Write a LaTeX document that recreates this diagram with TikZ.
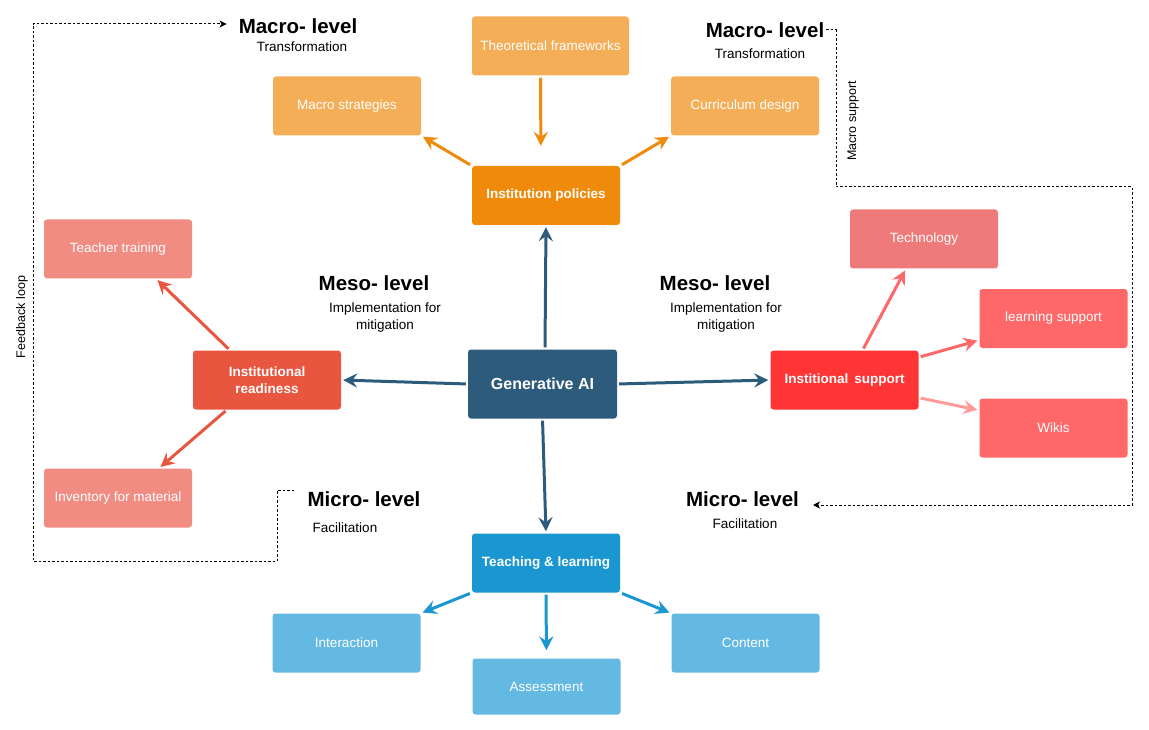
\documentclass[tikz,border=0pt]{standalone}
\usepackage{fontspec}
\setmainfont{Liberation Sans}
\usetikzlibrary{arrows.meta,calc}
\definecolor{orL}{HTML}{F5AE58}
\definecolor{orD}{HTML}{F08A0B}
\definecolor{navy}{HTML}{2D5B7C}
\definecolor{salm}{HTML}{F08C82}
\definecolor{redD}{HTML}{E8563F}
\definecolor{techc}{HTML}{EF7A7A}
\definecolor{pinkc}{HTML}{FF6868}
\definecolor{redS}{HTML}{FF3535}
\definecolor{blueD}{HTML}{1A96D0}
\definecolor{blueL}{HTML}{63B9E1}
\definecolor{pinkL}{HTML}{FF9A9A}
\tikzset{
  box/.style={rounded corners=3pt, minimum width=148pt, minimum height=59pt, inner sep=0pt,
    text=white, align=center, font=\fontsize{13.5}{16}\selectfont},
  boldbox/.style={box, font=\fontsize{13.5}{17}\selectfont\bfseries},
  lvl/.style={font=\fontsize{20.5}{24}\selectfont\bfseries, inner sep=0pt},
  sub/.style={font=\fontsize{13.5}{17}\selectfont, inner sep=0pt, align=center},
  arr/.style={line width=3pt, -{Stealth[length=14pt,width=14pt,inset=5pt]}, shorten <=2pt, shorten >=2pt},
  dotarr/.style={line width=1pt, dash pattern=on 2.5pt off 2pt, -{Stealth[length=7pt,width=7pt,inset=2pt]}},
  rot/.style={rotate=90, font=\fontsize{12.5}{15}\selectfont, inner sep=0pt}
}
\begin{document}
\begin{tikzpicture}[x=1pt,y=-1pt]
\useasboundingbox (0,0) rectangle (1149,730);
% macro
\node[box, fill=orL] (macrostr) at (347,106) {Macro strategies};
\node[box, fill=orL, minimum width=157pt] (theory) at (550.5,46) {Theoretical frameworks};
\node[box, fill=orL] (curric) at (745,106) {Curriculum design};
\node[boldbox, fill=orD] (policies) at (546,195.5) {Institution policies};
% meso left
\node[box, fill=salm] (teacher) at (118,249) {Teacher training};
\node[boldbox, fill=redD] (readiness) at (267,380) {Institutional\\readiness};
\node[box, fill=salm] (inventory) at (118,498) {Inventory for material};
% center
\node[box, fill=navy, minimum width=149pt, minimum height=69pt, font=\fontsize{16}{19}\selectfont\bfseries] (genai) at (542.5,384) {Generative AI};
% meso right
\node[box, fill=techc] (tech) at (924,239) {Technology};
\node[box, fill=pinkc] (learn) at (1053.5,318.5) {learning support};
\node[boldbox, fill=redS] (support) at (844.5,380) {Institional\, support};
\node[box, fill=pinkc] (wikis) at (1053.5,428) {Wikis};
% micro
\node[boldbox, fill=blueD] (teaching) at (546,563) {Teaching \& learning};
\node[box, fill=blueL] (interact) at (346.5,643) {Interaction};
\node[box, fill=blueL, minimum height=56pt] (assess) at (546.5,686.5) {Assessment};
\node[box, fill=blueL] (content) at (745.5,643) {Content};
% labels
\node[lvl] (macroL) at (298,26) {Macro- level};
\node[sub] (transL) at (302,47) {Transformation};
\node[lvl] (macroR) at (765,30) {Macro- level};
\node[sub] (transR) at (760,54) {Transformation};
\node[lvl] (mesoL) at (374,283) {Meso- level};
\node[sub] (implL) at (385,317.5) {Implementation for\\mitigation};
\node[lvl] (mesoR) at (715,283) {Meso- level};
\node[sub] (implR) at (726,317.5) {Implementation for\\mitigation};
\node[lvl] (microL) at (364,499) {Micro- level};
\node[sub] (facL) at (345,528) {Facilitation};
\node[lvl] (microR) at (742.5,499) {Micro- level};
\node[sub] (facR) at (745,524) {Facilitation};
\node[rot] (fbtext) at (22,317) {Feedback loop};
\node[rot] (mstext) at (853,121) {Macro support};
% arrows macro
\draw[arr, orD] ([xshift=-10pt]theory.south) -- ([xshift=-5pt]policies.north) [shorten >=20pt];
\draw[arr, orD] (policies.north west) -- (macrostr.south east);
\draw[arr, orD] (policies.north east) -- (curric.south west);
% arrows from gen ai
\draw[arr, navy] ([xshift=2.5pt]genai.north) -- (policies.south);
\draw[arr, navy] (genai.west) -- (readiness.east);
\draw[arr, navy] (genai.east) -- (support.west);
\draw[arr, navy] (genai.south) -- (teaching.north);
% meso left
\draw[arr, redD] ([xshift=-37pt]readiness.north) -- ([xshift=38pt]teacher.south);
\draw[arr, redD] ([xshift=-40pt]readiness.south) -- ([xshift=41pt]inventory.north);
% meso right
\draw[arr, pinkc] ([xshift=18pt]support.north) -- ([xshift=-18pt]tech.south);
\draw[arr, pinkc] ([yshift=-7pt]support.north east) -- ([yshift=8pt]learn.south west);
\draw[arr, pinkL] ([yshift=12pt]support.south east) -- ([yshift=-12pt]wikis.north west);
% micro
\draw[arr, blueD] (teaching.south west) -- (interact.north east);
\draw[arr, blueD] (teaching.south) -- (assess.north) [shorten >=8pt];
\draw[arr, blueD] (teaching.south east) -- (content.north west);
% dashed loops
\coordinate (fbs) at (294,490);
\coordinate (fbA) at (277,561);
\coordinate (fbB) at (33,24);
\draw[dotarr] (fbs) -| (fbA) -| (fbB) -- ([xshift=-12pt]fbB -| macroL.west);
\coordinate (ms1) at (836,187);
\coordinate (ms2) at (1132,505);
\coordinate (msEnd) at (813,505);
\draw[dotarr] ([xshift=2pt]macroR.east) -| (ms1) -| (ms2) -- (msEnd);
\end{tikzpicture}
\end{document}
